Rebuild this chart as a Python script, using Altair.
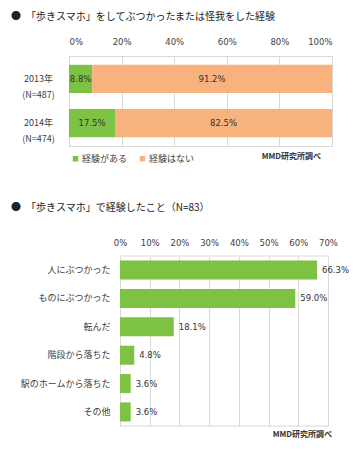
import altair as alt
import pandas as pd

# ---- data ----
title1 = "●　「歩きスマホ」をしてぶつかったまたは怪我をした経験"
years = ["2013年\n(N=487)", "2014年\n(N=474)"]
answers = ["経験がある", "経験はない"]
yes_vals = [8.8, 17.5]
no_vals = [91.2, 82.5]
colors = ["#7dc242", "#f8b27e"]

title2 = "●　「歩きスマホ」で経験したこと（N=83）"
items = ["人にぶつかった", "ものにぶつかった", "転んだ", "階段から落ちた", "駅のホームから落ちた", "その他"]
item_vals = [66.3, 59.0, 18.1, 4.8, 3.6, 3.6]
source = "MMD研究所調べ"

ticks1 = [0, 20, 40, 60, 80, 100]
ticks2 = [0, 10, 20, 30, 40, 50, 60, 70]

rows = []
for y, a, b in zip(years, yes_vals, no_vals):
    rows.append({"year": y, "answer": answers[0], "value": a, "ord": 0})
    rows.append({"year": y, "answer": answers[1], "value": b, "ord": 1})
df1 = pd.DataFrame(rows)
df2 = pd.DataFrame({"item": items, "value": item_vals})

JP = "Noto Sans CJK JP"
NUM = "DejaVu Sans"
GRID = "#d9d9d9"
TXT = "#404040"

W1, H1 = 263, 90
W2, H2 = 264, 170

# ---- top chart ----
x1 = alt.X("value:Q", stack="zero", title=None,
           scale=alt.Scale(domain=[0, 100]),
           axis=alt.Axis(orient="top", values=ticks1, tickCount=12, labelExpr="datum.value + '%'",
                         domain=False, ticks=False, labelPadding=10, labelFont=NUM,
                         labelFontSize=8.5, labelColor=TXT, grid=True, gridColor=GRID))
y1 = alt.Y("year:N", sort=years, title=None,
           scale=alt.Scale(paddingInner=0.36, paddingOuter=0.2),
           axis=alt.Axis(labelExpr="split(datum.label, '\\n')", labelAlign="center",
                         labelBaseline="middle", labelPadding=31, ticks=False, domain=False,
                         labelFont=JP, labelFontSize=9, labelColor=TXT, labelLineHeight=16))

bars1 = alt.Chart(df1).mark_bar().encode(
    x=x1,
    y=y1,
    color=alt.Color("answer:N", scale=alt.Scale(domain=answers, range=colors),
                    legend=alt.Legend(orient="none", legendX=2, legendY=98, direction="horizontal",
                                      title=None, symbolType="square", symbolSize=30,
                                      symbolStrokeWidth=0, labelFont=JP, labelFontSize=9,
                                      labelColor=TXT, columnPadding=10, labelOffset=2, padding=0)),
    order=alt.Order("ord:Q"),
)

labels1 = alt.Chart(df1).transform_window(
    cum="sum(value)", groupby=["year"], sort=[alt.SortField("ord")], frame=[None, 0]
).transform_calculate(
    mid="datum.cum - datum.value / 2", lab="format(datum.value, '.1f') + '%'"
).mark_text(font=NUM, fontSize=8.5, color="#333333").encode(
    x=alt.X("mid:Q", title=None),
    y=alt.Y("year:N", sort=years, title=None),
    text="lab:N",
)

ttl1 = alt.Chart(pd.DataFrame({"t": [title1]})).mark_text(
    align="left", baseline="top", font=JP, fontSize=10, color="#222222"
).encode(x=alt.value(-58), y=alt.value(-44), text="t:N")

src1 = alt.Chart(pd.DataFrame({"t": [source]})).mark_text(
    align="right", baseline="middle", font=JP, fontSize=8, fontWeight="bold", color="#333333"
).encode(x=alt.value(252), y=alt.value(101), text="t:N")

top = alt.layer(bars1, labels1, ttl1, src1).properties(
    width=W1, height=H1, view=alt.ViewBackground(stroke=GRID)
)

# ---- bottom chart ----
x2 = alt.X("value:Q", title=None,
           scale=alt.Scale(domain=[0, 70], range=[51, 259]),
           axis=alt.Axis(orient="top", values=ticks2, tickCount=12, labelExpr="datum.value + '%'",
                         domain=False, ticks=False, labelPadding=9, labelFont=NUM,
                         labelFontSize=8.5, labelColor=TXT, grid=True, gridColor=GRID,
                         labelFlush=False))
y2 = alt.Y("item:N", sort=items, title=None,
           scale=alt.Scale(paddingInner=0.33, paddingOuter=0.16),
           axis=alt.Axis(offset=-51, labelPadding=10, ticks=False, domain=False,
                         labelFont=JP, labelFontSize=9, labelColor=TXT))

bars2 = alt.Chart(df2).mark_bar(color=colors[0]).encode(x=x2, y=y2)

labels2 = alt.Chart(df2).transform_calculate(
    lab="format(datum.value, '.1f') + '%'"
).mark_text(align="left", dx=5, font=NUM, fontSize=8.5, color="#333333").encode(
    x=alt.X("value:Q", title=None),
    y=alt.Y("item:N", sort=items, title=None),
    text="lab:N",
)

edge_top = alt.Chart(pd.DataFrame({"a": [0]})).mark_rule(color=GRID).encode(
    x=alt.datum(0), x2=alt.datum(70), y=alt.value(0))
edge_bot = alt.Chart(pd.DataFrame({"a": [0]})).mark_rule(color=GRID).encode(
    x=alt.datum(0), x2=alt.datum(70), y=alt.value(H2))

ttl2 = alt.Chart(pd.DataFrame({"t": [title2]})).mark_text(
    align="left", baseline="top", font=JP, fontSize=10, color="#222222"
).encode(x=alt.value(-58), y=alt.value(-53), text="t:N")

src2 = alt.Chart(pd.DataFrame({"t": [source]})).mark_text(
    align="right", baseline="middle", font=JP, fontSize=8, fontWeight="bold", color="#333333"
).encode(x=alt.value(263), y=alt.value(179), text="t:N")

bottom = alt.layer(bars2, labels2, edge_top, edge_bot, ttl2, src2).properties(
    width=W2, height=H2
)

chart = alt.vconcat(top, bottom, spacing=110, bounds="flush").properties(
    padding={"left": 2, "top": 3, "right": 0, "bottom": 0}
).configure_view(stroke=None)

chart.save("out.html", embed_options={"renderer": "svg", "actions": False})
